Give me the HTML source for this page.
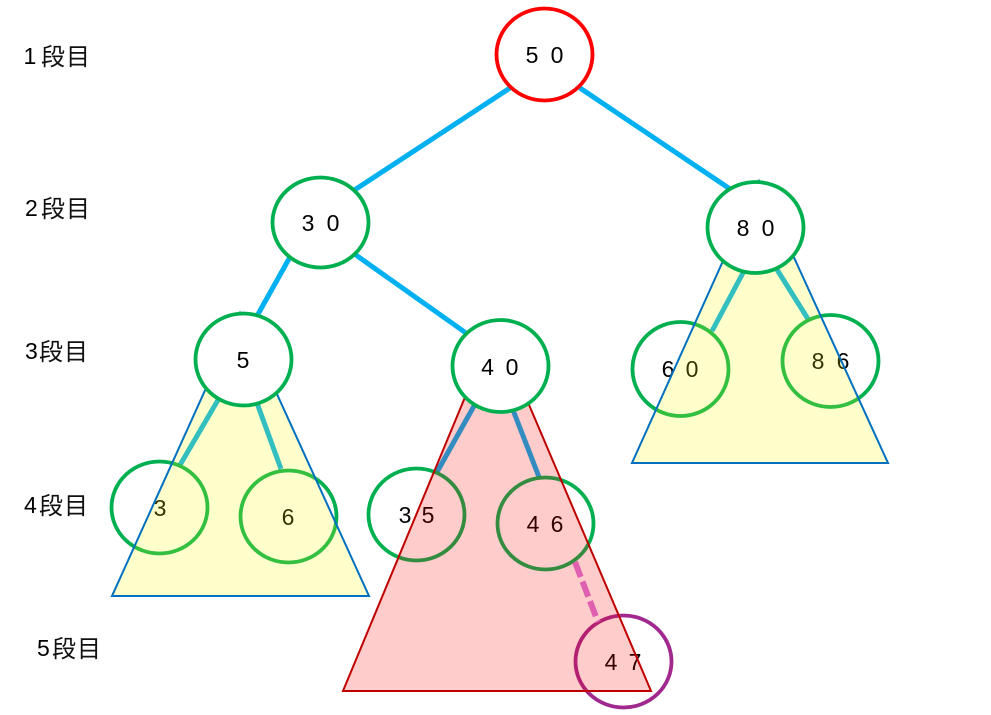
<!DOCTYPE html>
<html><head><meta charset="utf-8"><style>
html,body{margin:0;padding:0;background:#fff;width:991px;height:715px;overflow:hidden}
svg{display:block}
.d{font-family:"Liberation Sans",sans-serif;font-size:23px;fill:#000;text-anchor:middle}
.l{font-family:"Liberation Sans",sans-serif;font-size:23px;fill:#000}
.k{font-family:"Noto Sans CJK JP",sans-serif;font-size:24px;fill:#111;letter-spacing:1px}
</style></head><body>
<svg width="991" height="715" viewBox="0 0 991 715" xmlns="http://www.w3.org/2000/svg">
<!-- level labels -->
<text class="l" x="23.5" y="64">1</text><text class="k" x="41" y="65">段目</text>
<text class="l" x="25" y="216">2</text><text class="k" x="41" y="217">段目</text>
<text class="l" x="25" y="359">3</text><text class="k" x="39" y="360">段目</text>
<text class="l" x="24" y="513">4</text><text class="k" x="39" y="514">段目</text>
<text class="l" x="37" y="656">5</text><text class="k" x="52" y="657">段目</text>

<!-- edges -->
<g stroke="#00B0F0" stroke-width="5" fill="none">
<line x1="510" y1="88" x2="353" y2="191"/>
<line x1="580" y1="88" x2="730" y2="189"/>
<line x1="290" y1="257" x2="257" y2="316"/>
<line x1="353" y1="253" x2="466" y2="333"/>
<line x1="218" y1="400" x2="180" y2="465"/>
<line x1="257" y1="403" x2="281" y2="469"/>
<line x1="474" y1="406" x2="437" y2="472"/>
<line x1="513" y1="410" x2="539" y2="477"/>
<line x1="744" y1="271" x2="712" y2="331"/>
<line x1="776" y1="268" x2="808" y2="319"/>
</g>

<!-- leaf circles (under triangles) -->
<g fill="none" stroke="#00B050" stroke-width="3.8">
<ellipse cx="159.5" cy="507.5" rx="48" ry="46"/>
<ellipse cx="288.5" cy="516.5" rx="48" ry="46"/>
<ellipse cx="416.5" cy="514.5" rx="48" ry="46"/>
<ellipse cx="545.5" cy="523.5" rx="48" ry="46"/>
<ellipse cx="680.5" cy="369" rx="48" ry="47"/>
<ellipse cx="830.5" cy="361" rx="48" ry="46"/>
</g>
<ellipse cx="623.5" cy="661.5" rx="48" ry="46" fill="none" stroke="#A0288E" stroke-width="3.8"/>

<text class="d" x="160" y="516">3</text>
<text class="d" x="288" y="525">6</text>
<text class="d" x="405" y="523">3</text><text class="d" x="428" y="523">5</text>
<text class="d" x="533" y="532">4</text><text class="d" x="557" y="532">6</text>
<text class="d" x="611" y="670">4</text><text class="d" x="635" y="670">7</text>
<text class="d" x="668" y="377">6</text><text class="d" x="692" y="377">0</text>
<text class="d" x="818" y="369">8</text><text class="d" x="843" y="369">6</text>

<!-- triangles -->
<polygon points="240,313 112,596 369,596" fill="rgba(255,255,0,0.2)" stroke="#0070C0" stroke-width="2"/>
<polygon points="759,181 632,463 888,463" fill="rgba(255,255,0,0.2)" stroke="#0070C0" stroke-width="2"/>
<polygon points="495,325 343,691 651,691" fill="rgba(255,0,0,0.2)" stroke="#C00000" stroke-width="2"/>

<!-- dashed edge -->
<line x1="575" y1="562" x2="598" y2="622" stroke="#E060B0" stroke-width="6" stroke-dasharray="16 5"/>

<!-- top nodes -->
<ellipse cx="544.5" cy="54.5" rx="48" ry="46" fill="#fff" stroke="#FF0000" stroke-width="3.8"/>
<text class="d" x="532" y="63">5</text><text class="d" x="557" y="63">0</text>

<g fill="#fff" stroke="#00B050" stroke-width="3.8">
<ellipse cx="320.5" cy="222.5" rx="48" ry="45"/>
<ellipse cx="755.5" cy="227.5" rx="48" ry="45.5"/>
<ellipse cx="243.5" cy="359.5" rx="48" ry="46"/>
<ellipse cx="500.5" cy="366" rx="48" ry="46"/>
</g>
<text class="d" x="308" y="231">3</text><text class="d" x="333" y="231">0</text>
<text class="d" x="743" y="236">8</text><text class="d" x="768" y="236">0</text>
<text class="d" x="243" y="368">5</text>
<text class="d" x="487.5" y="375">4</text><text class="d" x="512" y="375">0</text>
</svg>
</body></html>
